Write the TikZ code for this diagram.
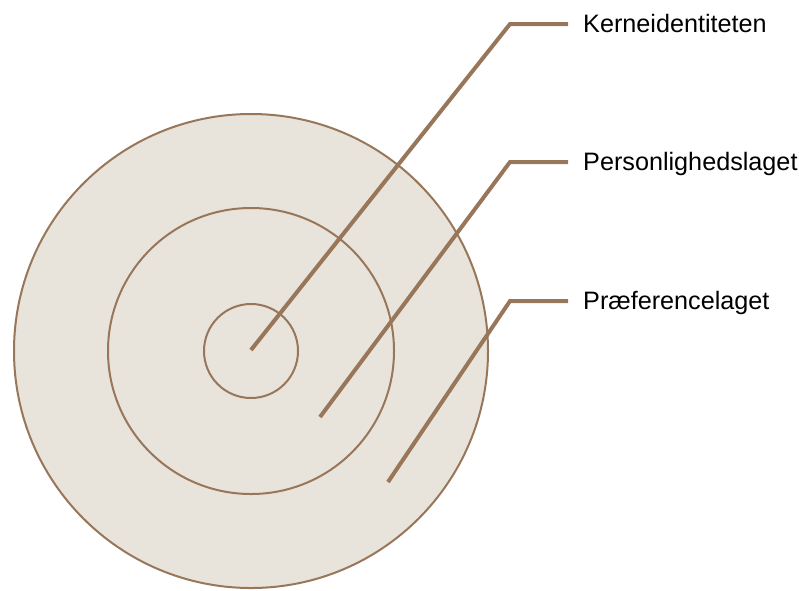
\documentclass[tikz,border=0pt]{standalone}
\usepackage{fontspec}
\setmainfont{Liberation Sans}
\definecolor{brn}{HTML}{98765A}
\definecolor{fillc}{HTML}{E9E4DB}
\begin{document}
\begin{tikzpicture}[x=1pt,y=-1pt,
  ring/.style={draw=brn,line width=2pt},
  leader/.style={draw=brn,line width=4pt},
  lbl/.style={anchor=base west,inner sep=0pt,font=\fontsize{25.2}{29}\selectfont}]
\useasboundingbox (0,0) rectangle (799,590);
\coordinate (c) at (251,351);
\fill[fillc] (c) circle (237);
\draw[ring] (c) circle (237);
\draw[ring] (c) circle (143);
\draw[ring] (c) circle (47);
\coordinate (s1) at (251,350);
\coordinate (k1) at (510,24);
\coordinate (e1) at (568,24);
\coordinate (s2) at (320,417);
\coordinate (k2) at (510,162);
\coordinate (e2) at (568,162);
\coordinate (s3) at (388,482);
\coordinate (k3) at (510,301);
\coordinate (e3) at (568,301);
\draw[leader] (s1) -- (k1) -- (e1);
\draw[leader] (s2) -- (k2) -- (e2);
\draw[leader] (s3) -- (k3) -- (e3);
\node[lbl] (t1) at (583,32) {Kerneidentiteten};
\node[lbl] (t2) at (583,170) {Personlighedslaget};
\node[lbl] (t3) at (583,309) {Præferencelaget};
\end{tikzpicture}
\end{document}
